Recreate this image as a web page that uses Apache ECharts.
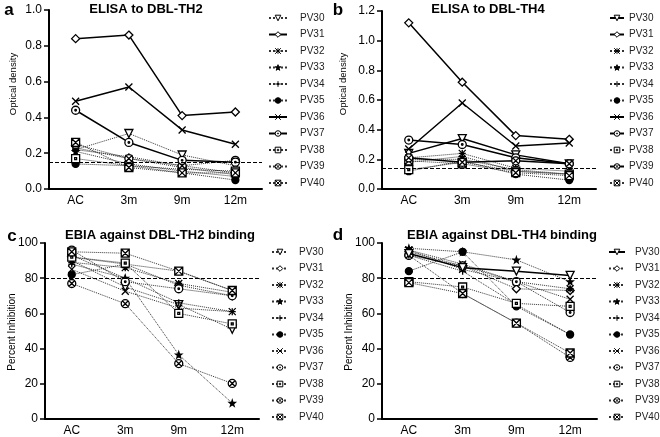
<!DOCTYPE html>
<html>
<head>
<meta charset="utf-8">
<script src="https://cdn.jsdelivr.net/npm/echarts@6/dist/echarts.min.js"></script>
<style>
  html, body { margin: 0; padding: 0; background: #fff; }
  #chart { width: 660px; height: 437px; }
</style>
</head>
<body>
<div id="chart"></div>
<script>
// categories and series names
const categories = ['AC', '3m', '9m', '12m'];
const pvNames = ['PV30', 'PV31', 'PV32', 'PV33', 'PV34', 'PV35', 'PV36', 'PV37', 'PV38', 'PV39', 'PV40'];

// a: ELISA to DBL-TH2 (optical density), one row per PV
const elisaTH2 = [
    [0.22, 0.31, 0.19, 0.13],
    [0.84, 0.86, 0.41, 0.43],
    [0.23, 0.17, 0.12, 0.08],
    [0.21, 0.14, 0.10, 0.07],
    [0.22, 0.18, 0.13, 0.09],
    [0.14, 0.13, 0.09, 0.05],
    [0.49, 0.57, 0.33, 0.25],
    [0.44, 0.26, 0.16, 0.15],
    [0.17, 0.13, 0.11, 0.10],
    [0.25, 0.17, 0.13, 0.16],
    [0.26, 0.12, 0.09, 0.09]
];
// b: ELISA to DBL-TH4
const elisaTH4 = [
    [0.24, 0.34, 0.23, 0.17],
    [1.12, 0.72, 0.36, 0.335],
    [0.21, 0.24, 0.14, 0.12],
    [0.20, 0.20, 0.13, 0.10],
    [0.18, 0.22, 0.12, 0.10],
    [0.12, 0.19, 0.10, 0.06],
    [0.27, 0.58, 0.29, 0.31],
    [0.33, 0.30, 0.21, 0.17],
    [0.13, 0.18, 0.12, 0.10],
    [0.21, 0.18, 0.19, 0.17],
    [0.19, 0.17, 0.11, 0.09]
];
// c: EBIA against DBL-TH2 binding (percent inhibition)
const ebiaTH2 = [
    [90, 75, 65, 51],
    [92, 88, 76, 70],
    [89, 86, 77, 72],
    [93, 80, 36.5, 9],
    [88, 80, 66, 61],
    [82, 88, 84, 73],
    [85, 72.6, 63, 61],
    [96, 78, 74, 70],
    [92, 88.6, 60, 54],
    [77, 65.5, 31.5, 20.2],
    [95, 94.2, 84, 73]
];
// d: EBIA against DBL-TH4 binding
const ebiaTH4 = [
    [94, 86, 84, 81.6],
    [95, 87, 74, 73],
    [96, 85, 78, 74],
    [97, 95, 90.4, 78],
    [93, 84, 65, 48],
    [84, 95, 64, 48],
    [96, 88, 78, 68],
    [93, 87, 78, 60.5],
    [78, 75, 65.7, 64],
    [93, 71.3, 54.5, 35],
    [77.5, 71.3, 54.5, 37.5]
];
const odTicks = ['0.0', '0.2', '0.4', '0.6', '0.8', '1.0', '1.2'];
const piTicks = ['0', '20', '40', '60', '80', '100'];

// marker shapes per PV
const symbols = [
    'path://M0,0L10,0L5,9Z',
    'path://M5,0L10,5L5,10L0,5Z',
    'path://M0,0L10,10M10,0L0,10M5,0L5,10M0,5L10,5',
    'path://M5,0L6.2,3.6L10,3.6L7,5.9L8.1,9.5L5,7.3L1.9,9.5L3,5.9L0,3.6L3.8,3.6Z',
    'path://M5,0L5,10M0,5L10,5',
    'circle',
    'path://M0,0L10,10M10,0L0,10',
    'path://M0,5A5,5,0,1,0,10,5A5,5,0,1,0,0,5ZM4,5A1,1,0,1,0,6,5A1,1,0,1,0,4,5Z',
    'path://M0,0L10,0L10,10L0,10ZM3.8,3.8L6.2,3.8L6.2,6.2L3.8,6.2Z',
    'path://M0,5A5,5,0,1,0,10,5A5,5,0,1,0,0,5ZM1.6,1.6L8.4,8.4M8.4,1.6L1.6,8.4',
    'path://M0,0L10,0L10,10L0,10ZM0,0L10,10M10,0L0,10'
];
const filled = [false, false, false, true, false, true, false, false, false, false, false];
const symSizes = [8, 8, 7, 6, 7, 7, 7, 8, 8, 8, 8];

const panels = [
    { key: 'a', data: elisaTH2, solid: ['PV31', 'PV36', 'PV37'], cut: 0.15 },
    { key: 'b', data: elisaTH4, solid: ['PV30', 'PV31', 'PV36', 'PV37', 'PV39'], cut: 0.14 },
    { key: 'c', data: ebiaTH2, solid: [], cut: 80 },
    { key: 'd', data: ebiaTH4, solid: ['PV30'], cut: 80 }
];

const grids = [
    { left: 49, top: 10, width: 213, height: 179 },
    { left: 382, top: 11, width: 214, height: 178 },
    { left: 45, top: 243, width: 214, height: 178 },
    { left: 382, top: 243, width: 215, height: 178 }
];

const font = 'Liberation Sans, Arial, sans-serif';

const xAxes = grids.map((g, i) => ({
    type: 'category',
    gridIndex: i,
    data: categories,
    boundaryGap: true,
    axisLine: { lineStyle: { color: '#000', width: 2 } },
    axisTick: { alignWithLabel: true, length: 5, lineStyle: { color: '#000', width: 1.5 } },
    axisLabel: { color: '#000', fontSize: 12, fontFamily: font, margin: 6 }
}));

const yAxes = grids.map((g, i) => {
    const od = i < 2;
    return {
        type: 'value',
        gridIndex: i,
        min: 0,
        max: od ? (i === 0 ? 1.0 : 1.2) : 100,
        interval: od ? 0.2 : 20,
        splitLine: { show: false },
        axisLine: { show: true, lineStyle: { color: '#000', width: 2 } },
        axisTick: { show: true, length: 5, lineStyle: { color: '#000', width: 1.5 } },
        axisLabel: {
            color: '#000', fontSize: 12, fontFamily: font, margin: 7,
            formatter: v => od ? odTicks[Math.round(v / 0.2)] : piTicks[Math.round(v / 20)]
        }
    };
});

const series = [];
panels.forEach((p, pi) => {
    pvNames.forEach((name, i) => {
        const solid = p.solid.indexOf(name) >= 0;
        const s = {
            type: 'line',
            name: p.key + ':' + name,
            xAxisIndex: pi,
            yAxisIndex: pi,
            data: p.data[i],
            symbol: symbols[i],
            symbolSize: symSizes[i],
            z: solid ? 4 : 3,
            lineStyle: solid ? { type: 'solid', width: 1.5, color: '#000' } : { type: 'dotted', width: 1, color: '#333' },
            itemStyle: { color: filled[i] ? '#000' : '#fff', borderColor: '#000', borderWidth: 1.3 },
            emphasis: { disabled: true }
        };
        if (i === 0) {
            s.markLine = {
                silent: true,
                symbol: 'none',
                label: { show: false },
                lineStyle: { type: 'dashed', color: '#000', width: 1 },
                data: [{ yAxis: p.cut }]
            };
        }
        series.push(s);
    });
});

const legendPos = [
    { left: 268, top: 12, itemWidth: 18, pad: 8 },
    { left: 609, top: 12, itemWidth: 14, pad: 0 },
    { left: 271, top: 246, itemWidth: 16, pad: 6 },
    { left: 608, top: 246, itemWidth: 16, pad: 5 }
];
const legends = panels.map((p, pi) => ({
    orient: 'vertical',
    left: legendPos[pi].left,
    top: legendPos[pi].top,
    itemWidth: legendPos[pi].itemWidth,
    itemHeight: 7,
    itemGap: 4.5,
    padding: 0,
    selectedMode: false,
    itemStyle: { borderWidth: 1 },
    data: pvNames.map(n => p.key + ':' + n),
    formatter: n => n.slice(2),
    textStyle: { color: '#222', fontSize: 10, fontFamily: font, lineHeight: 12, padding: [0, 0, 0, legendPos[pi].pad] }
}));

function txt(x, y, text, size, bold, rot) {
    return {
        type: 'text', x: x, y: y, rotation: rot || 0,
        style: { text: text, fill: '#000', font: (bold ? 'bold ' : '') + size + 'px ' + font, textAlign: 'center', textVerticalAlign: 'middle' }
    };
}

const graphics = [
    txt(9, 10, 'a', 17, true),
    txt(338, 10, 'b', 17, true),
    txt(12, 236, 'c', 17, true),
    txt(338, 235, 'd', 17, true),
    txt(146, 9, 'ELISA to DBL-TH2', 13, true),
    txt(488, 9, 'ELISA to DBL-TH4', 13, true),
    txt(160, 235, 'EBIA against DBL-TH2 binding', 13, true),
    txt(502, 235, 'EBIA against DBL-TH4 binding', 13, true),
    txt(13.5, 84, 'Optical density', 9.5, false, Math.PI / 2),
    txt(343.5, 84, 'Optical density', 9.5, false, Math.PI / 2),
    txt(12.5, 332, 'Percent Inhibition', 10, false, Math.PI / 2),
    txt(349.5, 332, 'Percent Inhibition', 10, false, Math.PI / 2)
];

const chart = echarts.init(document.getElementById('chart'));
chart.setOption({
    animation: false,
    backgroundColor: '#fff',
    grid: grids,
    xAxis: xAxes,
    yAxis: yAxes,
    legend: legends,
    graphic: graphics,
    series: series
});
</script>
</body>
</html>
